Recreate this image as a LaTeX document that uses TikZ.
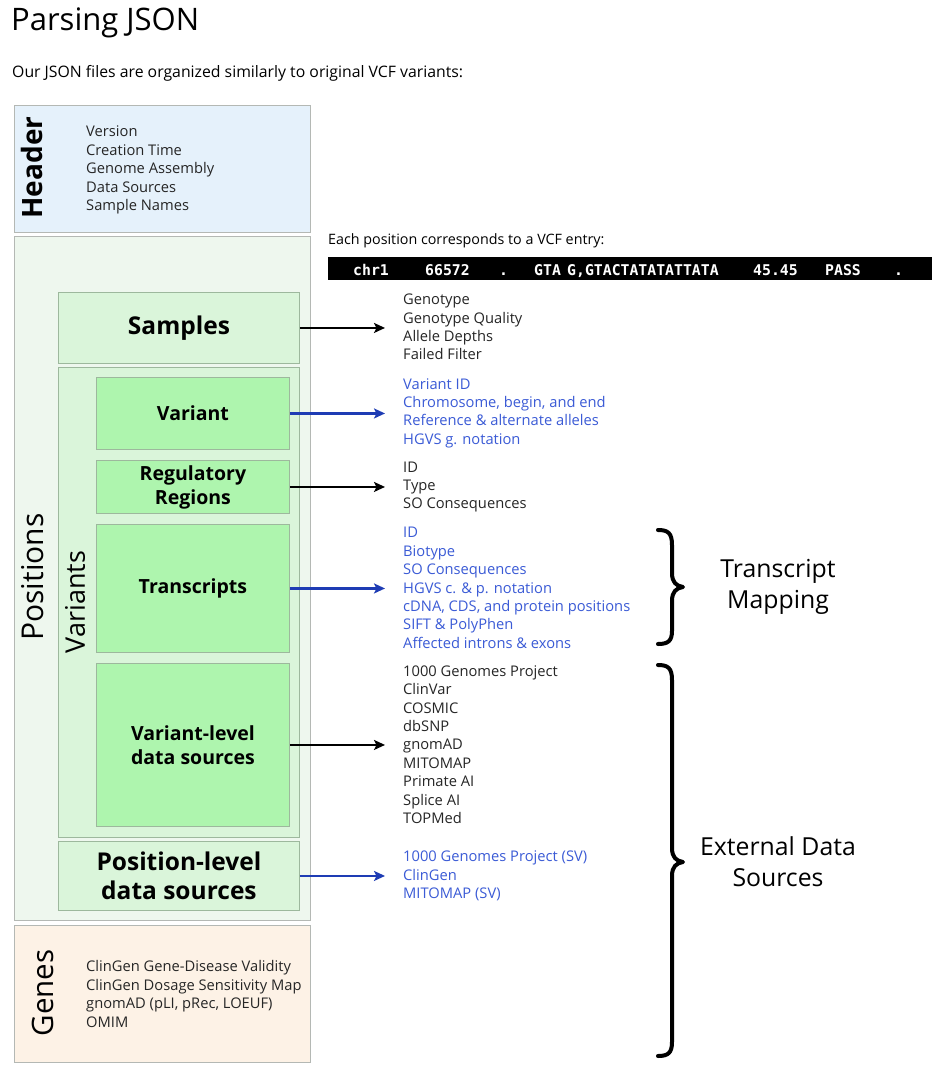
\documentclass[tikz,border=0pt]{standalone}
\usepackage{fontspec}
\setmainfont{Open Sans}
\newfontfamily\vcfmono{DejaVu Sans Mono}
\usetikzlibrary{arrows.meta}
\definecolor{hdrfill}{HTML}{E5F1FB}
\definecolor{posfill}{HTML}{EEF7EE}
\definecolor{lgfill}{HTML}{DAF5DA}
\definecolor{gfill}{HTML}{AEF5AE}
\definecolor{genfill}{HTML}{FDF2E6}
\definecolor{boxline}{HTML}{B4B8B4}
\definecolor{gboxline}{HTML}{9DB89D}
\definecolor{listtxt}{HTML}{262626}
\definecolor{bluetxt}{HTML}{3B5BD6}
\definecolor{bluearr}{HTML}{1E3CB4}
\newcommand{\fsz}[2]{\fontsize{#1}{#2}\selectfont}
\tikzset{
  x=1pt, y=-1pt,
  outerbox/.style={draw=boxline, line width=0.9pt, anchor=north west, inner sep=0pt},
  midbox/.style={draw=gboxline, line width=0.9pt, fill=lgfill, anchor=north west, inner sep=0pt, align=center, font=\bfseries\fsz{24.5}{29}},
  innerbox/.style={draw=gboxline, line width=0.9pt, fill=gfill, anchor=north west, inner sep=0pt, minimum width=193pt, align=center, font=\bfseries\fsz{19.5}{24}},
  sidelabel/.style={rotate=90, inner sep=0pt},
  blist/.style={anchor=west, inner sep=0pt, align=left, text=listtxt, font=\fsz{14.7}{18.4}},
  ulist/.style={blist, text=bluetxt},
  karr/.style={draw=black, line width=2.2pt, -{Stealth[length=11pt,width=10pt,inset=2.5pt]}, shorten >=18pt},
  barr/.style={karr, draw=bluearr, color=bluearr},
  bracepath/.style={draw=black, line width=4pt, line cap=round, line join=round},
  vcf/.style={anchor=base west, inner sep=0pt, text=white, font=\vcfmono\bfseries\fsz{14.8}{16}},
  bigtxt/.style={inner sep=0pt, align=center, font=\fsz{24.8}{31}}
}
\begin{document}
\begin{tikzpicture}
\useasboundingbox (0,0) rectangle (948,1080);
\fill[white] (0,0) rectangle (948,1080);

% title
\node[anchor=base west, inner sep=0pt, font=\fsz{31}{36}] (title) at (11,30) {Parsing JSON};
\node[anchor=base west, inner sep=0pt, font=\fsz{15.8}{19}] (subtitle) at (12,77) {Our JSON files are organized similarly to original VCF variants:};

% outer boxes
\node[outerbox, fill=hdrfill, minimum width=296pt, minimum height=127pt] (header) at (14,105) {};
\node[outerbox, fill=posfill, minimum width=296pt, minimum height=684pt] (positions) at (14,236) {};
\node[outerbox, fill=genfill, minimum width=296pt, minimum height=137pt] (genes) at (14,925) {};

\node[sidelabel, font=\bfseries\fsz{28}{32}] (headerlbl) at (31.5,167.5) {Header};
\node[sidelabel, font=\fsz{30}{34}] (poslbl) at (33,577) {Positions};
\node[sidelabel, font=\fsz{29.5}{33}] (geneslbl) at (42.5,993) {Genes};

\node[blist] (hlist) at (86,170) {Version\\Creation Time\\Genome Assembly\\Data Sources\\Sample Names};
\node[blist] (glist) at (86,994) {ClinGen Gene-Disease Validity\\ClinGen Dosage Sensitivity Map\\gnomAD (pLI, pRec, LOEUF)\\OMIM};

% positions content
\node[midbox, minimum width=241pt, minimum height=71pt] (samples) at (58,292) {Samples};
\node[outerbox, draw=gboxline, fill=lgfill, minimum width=241pt, minimum height=470pt] (variants) at (58,367) {};
\node[sidelabel, font=\fsz{27}{31}] (varlbl) at (75,602) {Variants};
\node[innerbox, minimum height=72pt] (variant) at (96,377) {Variant};
\node[innerbox, minimum height=53pt] (regul) at (96,460) {Regulatory\\Regions};
\node[innerbox, minimum height=128pt] (transcripts) at (96,524) {Transcripts};
\node[innerbox, minimum height=163pt] (vlevel) at (96,663) {Variant-level\\data sources};
\node[midbox, minimum width=241pt, minimum height=69pt] (plevel) at (58,841) {Position-level\\data sources};

% VCF entry
\node[anchor=west, inner sep=0pt, font=\fsz{14.3}{18}] (vcfhdr) at (328,241) {Each position corresponds to a VCF entry:};
\fill[black] (328,257) rectangle (932,280);
\node[vcf] (v1) at (353,275) {chr1};
\node[vcf] (v2) at (425,275) {66572};
\node[vcf] (v3) at (499,275) {.};
\node[vcf] (v4) at (534,275) {GTA};
\node[vcf] (v5) at (567,275) {G,GTACTATATATTATA};
\node[vcf] (v6) at (753,275) {45.45};
\node[vcf] (v7) at (825,275) {PASS};
\node[vcf] (v8) at (894,275) {.};

% lists
\node[blist] (slist) at (403,327) {Genotype\\Genotype Quality\\Allele Depths\\Failed Filter};
\node[ulist] (vlist) at (403,413) {Variant ID\\Chromosome, begin, and end\\Reference \& alternate alleles\\HGVS g. notation};
\node[blist] (rlist) at (403,487) {ID\\Type\\SO Consequences};
\node[ulist] (tlist) at (403,588) {ID\\Biotype\\SO Consequences\\HGVS c. \& p. notation\\cDNA, CDS, and protein positions\\SIFT \& PolyPhen\\Affected introns \& exons};
\node[blist] (vllist) at (403,744.5) {1000 Genomes Project\\ClinVar\\COSMIC\\dbSNP\\gnomAD\\MITOMAP\\Primate AI\\Splice AI\\TOPMed};
\node[ulist] (pllist) at (403,876) {1000 Genomes Project (SV)\\ClinGen\\MITOMAP (SV)};

% arrows
\draw[karr] (samples.east) -- (samples.east -| slist.west);
\draw[barr] (variant.east) -- (variant.east -| vlist.west);
\draw[karr] (regul.east) -- (regul.east -| rlist.west);
\draw[barr] (transcripts.east) -- (transcripts.east -| tlist.west);
\draw[karr] (vlevel.east) -- (vlevel.east -| vllist.west);
\draw[barr] (plevel.east) -- (plevel.east -| pllist.west);

% braces
\draw[bracepath] (658,530) .. controls (668,530) and (672,533) .. (672,545) -- (672,573)
  .. controls (672,582) and (676,586) .. (683,587)
  .. controls (676,588) and (672,592) .. (672,601) -- (672,631)
  .. controls (672,641) and (668,644) .. (658,644);
\draw[bracepath] (658,665) .. controls (668,665) and (672,668) .. (672,680) -- (672,848)
  .. controls (672,857) and (676,861) .. (683,862)
  .. controls (676,863) and (672,867) .. (672,876) -- (672,1042)
  .. controls (672,1053) and (668,1056) .. (658,1056);

\node[bigtxt] (tmap) at (778,587) {Transcript\\Mapping};
\node[bigtxt] (extds) at (778,862) {External Data\\Sources};
\end{tikzpicture}
\end{document}
